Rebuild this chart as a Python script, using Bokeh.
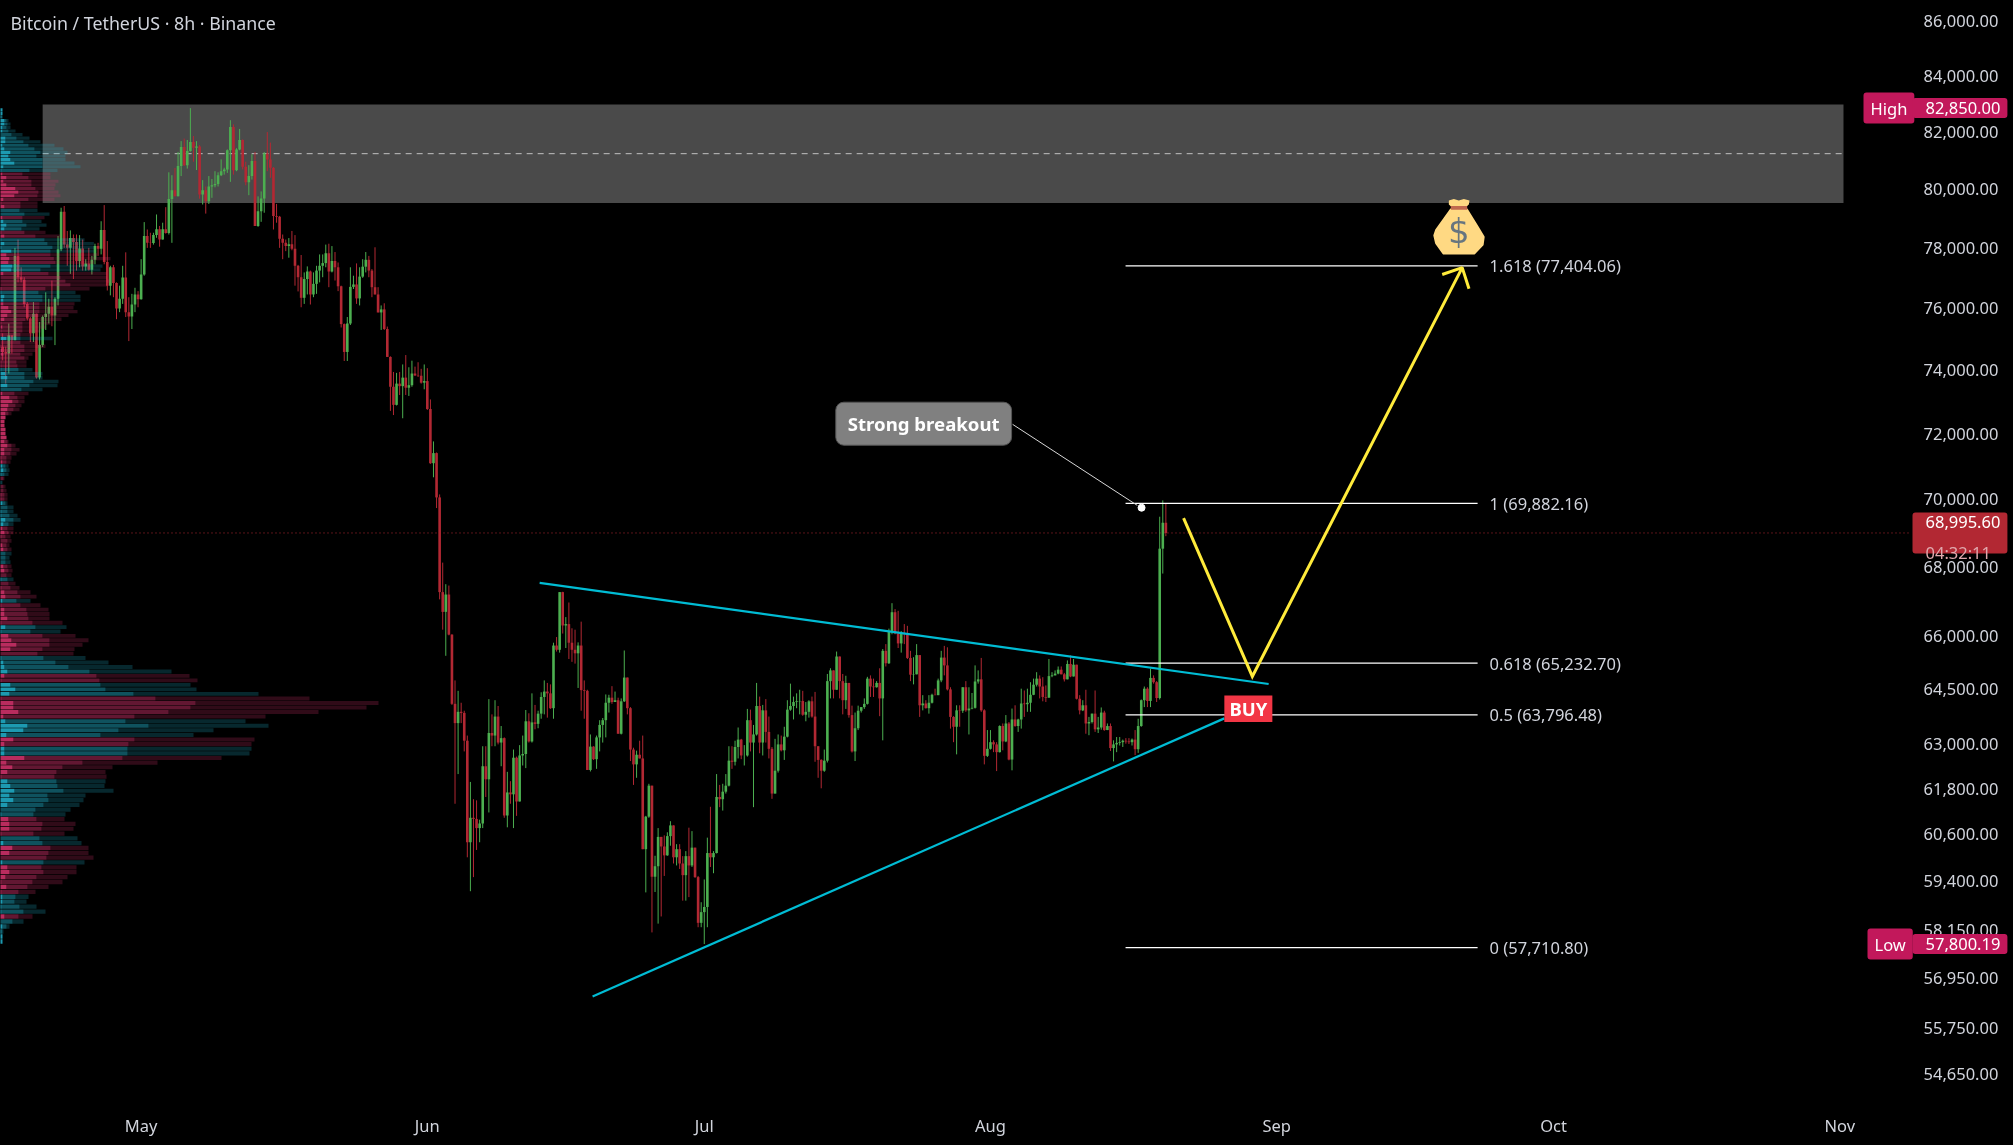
from bokeh.plotting import figure
from bokeh.models import ColumnDataSource, Range1d, FixedTicker, NumeralTickFormatter, Label
from bokeh.core.properties import value
from bokeh.embed import file_html
from bokeh.resources import INLINE
import math

FIRST_OPEN = 74760
CLOSES = [
74590,74540,75130,74970,77740,77030,76950,76150,75670,75190,
75830,73770,74810,75720,75830,76060,75770,76320,77960,79230,
78120,78010,78340,78210,77570,77990,77390,77490,77280,77610,
78070,77980,78610,77540,76750,77360,76840,76000,76320,77020,
75880,75740,76130,76460,76300,77120,78410,78180,78170,78440,
78640,78290,78640,78510,79670,79970,79760,80810,81470,80840,
81330,81650,81450,81490,79820,79970,79590,80100,80140,80190,
80490,80630,80690,81360,82180,80660,81390,81720,80780,80250,
80460,80980,78750,79250,79690,81250,81040,80750,79090,79060,
78320,78180,78070,78130,77980,77410,77030,76350,76970,77220,
76460,76810,77250,77410,77500,77830,77220,77570,77360,76730,
75490,74590,75510,76710,76790,76330,77050,77380,77610,77250,
76700,76460,75870,75970,75330,74430,73480,72910,73580,73500,
73770,73450,73530,73900,73840,73830,73610,73660,72780,
71100,71410,70060,67260,66690,67190,66040,64100,63570,63880,
63850,63090,60390,61030,61000,60760,60880,62400,62050,63300,
63230,63750,63040,63160,61090,61700,61650,62630,61460,62690,
62730,63620,63070,63590,63550,63830,64290,64440,64390,63980,
65730,65610,67260,66300,66340,65810,65610,65510,65730,64480,
64460,62300,62930,62590,63180,63520,63650,64130,64270,64150,
64200,63280,64170,64830,63980,62850,62450,62710,62610,60210,
61060,61880,59500,59770,60530,60280,60050,60550,60830,60000,
60210,59840,59540,60030,59790,60250,59490,58330,58600,58730,
60110,60000,60110,61580,61520,61720,61880,62550,62520,62920,
63120,62690,62690,63650,63040,63260,64040,63040,63920,63330,
62870,61670,62280,62990,62830,63200,63940,64040,64150,64170,
64180,63800,63880,64170,63750,62940,62570,62280,62550,64730,
65030,64490,65420,64730,64200,64680,63790,62800,63430,63910,
64010,64100,64800,64580,64560,64680,64250,65580,65230,66140,
66680,66070,65790,66070,66050,65380,64910,64920,65460,64060,
64110,63980,64130,64350,64340,64750,65390,65170,64500,63740,
63470,63920,63910,64560,63920,63970,63990,64720,64780,63920,
62680,62870,63050,62990,62780,63490,63070,63560,62580,63670,
63490,63670,64110,64090,64130,64350,64630,64800,64580,64290,
64270,64870,64890,64940,65050,64920,64780,65210,64860,65190,
64240,63920,64060,63560,63600,63830,63400,63450,63860,63380,
63490,62890,62990,63030,63050,63090,63070,63050,63120,62860,
63490,64200,64520,64180,64820,64700,64260,68530,69300,68995.6,
]
HIGHS = [
75190,74760,75510,75080,78010,78290,77360,77030,76210,75720,
76210,75830,75560,75770,76530,76320,76920,76370,78410,79370,
79430,78580,78600,78460,78460,78440,78290,77630,78010,77740,
78150,78180,78910,79460,78240,77410,77440,76860,76750,77410,
77860,76370,76480,76680,76570,77630,78880,78630,78520,78520,
79140,78750,78860,79390,80590,80490,80740,81300,81680,81770,
81720,82850,81860,81680,81540,80320,80100,80460,80360,80630,
80590,81040,80750,81390,82420,82270,81430,82110,81740,80960,
80840,81220,81300,79760,79930,81300,82000,81630,80770,79500,
79090,78460,78290,78340,78580,78440,77440,77770,77190,77390,
77250,77190,77410,77790,77790,78120,78150,78070,77870,77520,
76750,75510,75720,77360,77080,77490,77360,77630,77870,77740,
77300,78030,76700,76100,76170,75410,74450,73950,73920,73950,
74190,74490,74100,74310,74120,74260,74050,74190,74070,
73080,71770,71430,70150,68120,67490,67450,66050,64750,64460,
64130,63910,63230,61980,61520,61490,60980,62940,62940,64230,
63810,64200,64040,63490,63180,62250,62000,62850,62660,62970,
63230,63930,63840,64390,64070,63910,64420,64750,64680,64640,
65810,65970,67260,67270,66540,66960,66220,66180,65820,66410,
64750,64490,63260,62940,63230,63650,63710,64360,64350,64590,
64440,64270,64250,65590,64830,64010,62900,62820,63090,63230,
61080,61930,61880,60040,60760,60530,60570,60650,60940,60830,
60340,60340,60030,60160,60770,60680,60250,59520,58850,59430,
60510,61320,60160,62190,61900,61930,62190,62940,62940,63090,
63450,63140,62970,63960,63940,63520,64680,64300,64070,64230,
63750,62920,63140,63260,63230,63470,64200,64660,64300,64390,
64490,64460,64150,64200,64300,64430,62940,62590,62850,64930,
65090,65030,65560,65420,64930,64880,64680,64050,63860,64050,
64010,64250,64850,64890,64800,64730,65090,65630,65770,66210,
66940,66770,66720,66140,66340,66290,65580,65400,65770,65460,
64340,64200,64340,64380,64520,64800,65580,65720,65680,64560,
63760,64060,64060,64560,64730,64560,64400,65170,65030,65380,
63950,63380,63380,63100,63050,63510,63560,63790,63600,63970,
64060,63690,64520,64470,64520,64700,64800,64980,64890,64840,
64610,65350,64980,65030,65140,65140,64960,65310,65450,65350,
65190,64340,64200,64490,63740,63830,64470,63740,64000,63910,
63560,63560,63100,63190,63190,63120,63160,63160,63150,63380,
63690,64220,64580,64560,65080,64890,64730,69480,69970,69880,
]
LOWS = [
74320,73580,73900,74540,74970,76860,76860,76040,75610,74910,
74910,73740,73710,74750,75300,75510,75420,74810,76100,77900,
78010,77410,77140,76970,77250,77360,77250,77250,77250,77120,
77460,77740,77790,77460,76590,76430,76370,75650,75880,76150,
75720,74940,75330,75880,76040,76290,77080,78010,78010,78120,
78350,78050,78290,78490,78460,78180,79760,79760,80460,80810,
80720,81310,80960,80670,79680,79480,79170,79500,79710,80070,
80100,80460,80510,80570,80260,80510,80630,81360,80690,80140,
79800,80340,78750,78720,78890,79200,80630,80400,78630,78860,
78010,77630,77900,77680,77930,76750,76560,76040,76150,76460,
76130,76370,76480,76860,77030,77360,76700,77190,76920,76570,
75380,74300,74300,75460,76640,76150,76100,77010,77190,77030,
76370,76460,75870,75300,75300,74430,72720,72590,72890,73220,
72490,73220,73190,73480,73820,73790,73580,73400,72750,
71080,70670,69740,67050,66180,65440,66020,64070,61400,62190,
63570,62800,60000,59130,59490,60190,60390,60760,61580,61170,
62940,62940,62990,62400,61030,60780,61400,60760,61080,61460,
62420,62350,63040,63040,63400,63430,63690,63810,63720,63960,
63690,65560,65530,66070,65660,65350,65270,65220,64540,63910,
63690,62300,62260,62570,62330,62800,63040,63180,63860,64100,
64150,63280,63260,64150,63810,62540,61900,62090,62610,60210,
59100,61030,58090,59110,58310,58490,59520,60040,60300,59840,
59790,59700,58890,58890,58980,59750,59470,58220,58220,57800,
58220,59750,59590,60100,61310,61220,61670,61860,62330,62420,
62610,62590,62420,62660,62800,61310,63230,62750,62690,63040,
62610,61530,61670,62230,62800,62570,63180,63910,63670,63980,
63810,63770,63620,63720,63720,62520,62090,61810,62250,62500,
64250,64250,64490,64250,63810,63960,63720,62770,62540,63380,
63860,63960,64080,64290,64290,64550,63760,63100,65140,65210,
66050,66050,65660,65530,65770,65350,64730,64640,64920,63740,
63920,63970,63830,64110,64340,64340,64700,64890,64470,63420,
63050,62720,63470,63850,63880,63260,63950,63970,64660,63880,
62450,62650,62850,62780,62270,62770,62830,63050,62560,62290,
63470,63330,63420,63740,63880,63880,64340,64580,64250,64170,
64150,64270,64840,64890,64920,64920,64720,64780,64840,64860,
64220,63810,63900,63280,63240,63560,63330,63300,63390,63360,
63380,62810,62530,62780,62960,62920,63010,63000,62960,62700,
62760,63470,64010,64010,64010,64660,64150,64220,67800,68900,
]

# Volume profile rows, top row first. T = teal row, P = pink row.
PROFILE_TOP_PRICE = 82787
PROFILE_STEP = 125.25
PROFILE_SIDE = list(
    "T"*18 + "P"*10 + "TT" + "P" + "TTT" + "PP" + "TTTT" + "PP"
    + "P" + "TT" + "PPPPP" + "TTT" + "P"*9 + "T" + "P"*7 + "T"*6 + "P"*9
    + "P"*9 + "TTT" + "P" + "T" + "PPPP" + "T"*6 + "P"*6 + "TTT" + "PPP" + "T" + "PPPP"
    + "T" + "P"*5 + "TT" + "P"*5 + "T"*4 + "PP" + "TTT" + "P"*5 + "T"*4 + "PP" + "TT"
    + "P"*5 + "T"*8 + "P"*4 + "TT" + "PPP" + "T" + "P"*6 + "T"*4 + "P" + "T"*5
)
PROFILE_A = [
6,6,3,12,12,6,6,0,15,15,6,12,30,24,30,42,9,3,6,18,9,18,45,54,42,9,3,12,0,0,6,9,18,12,3,12,3,12,3,33,18,27,
24,36,33,9,0,0,0,3,3,12,9,9,24,33,21,12,3,6,3,3,18,0,3,6,9,3,3,3,3,15,21,0,21,0,6,27,36,24,21,15,15,12,12,
15,15,18,12,21,12,12,3,6,6,9,3,0,0,0,0,3,3,6,0,3,3,15,9,6,12,3,0,6,9,0,0,0,9,12,0,3,0,3,12,15,
6,3,12,12,21,3,15,3,24,33,48,30,0,3,9,12,21,12,3,30,45,27,3,39,39,54,9,15,81,69,18,39,12,12,12,72,18,36,21,3,21,30,42,27,39,21,0,3,24,27,27,3,0,9,36,27,0,6,21,27,15,3,18,3,6,6,3,3,12,0,6,3,6,6,
]
PROFILE_B = [
6,6,6,18,21,18,24,33,48,69,84,102,120,108,126,126,126,87,66,84,93,93,105,114,111,84,60,60,57,72,66,66,78,63,72,105,132,141,156,150,150,160,
165,150,120,144,180,195,210,135,114,126,126,117,117,117,114,75,66,66,66,60,60,60,72,72,60,72,48,51,54,72,72,99,87,63,42,51,54,45,39,24,15,12,12,
15,15,18,21,33,33,30,18,18,15,18,12,9,3,9,9,12,12,15,21,21,27,39,24,21,24,15,21,18,21,15,15,15,21,24,18,21,24,30,51,60,
48,60,78,81,84,96,105,90,126,147,147,126,111,129,165,204,267,288,297,300,315,399,465,585,570,504,402,375,444,354,300,402,384,381,381,366,246,186,168,162,168,171,189,141,144,129,105,99,108,126,123,99,117,126,150,144,138,129,123,129,108,96,81,54,45,42,57,69,54,36,18,6,6,6,
]
PROFILE_C = [
6,6,6,24,30,30,45,66,87,120,162,189,201,195,195,222,240,171,150,150,174,165,162,174,180,162,111,111,111,147,132,123,138,117,135,180,252,280,282,280,290,330,
280,306,300,320,320,330,320,267,225,240,240,222,219,231,204,183,150,135,120,100,156,110,135,105,96,84,78,78,96,126,126,174,171,126,84,72,72,63,57,33,15,12,12,
15,15,18,24,45,57,48,33,30,24,27,24,12,6,15,18,21,21,21,39,39,51,60,39,39,39,30,33,27,33,33,27,30,33,36,33,39,45,57,90,108,
90,120,144,147,147,186,198,180,225,264,246,222,219,255,324,396,513,567,591,570,588,774,927,1134,1098,954,795,735,804,639,579,762,753,753,747,663,471,336,315,318,315,312,339,255,249,237,210,195,192,225,219,192,231,243,264,264,279,252,228,228,201,186,144,105,84,78,108,135,96,69,27,9,6,6,
]

PRICE_TICKS = [86000,84000,82000,80000,78000,76000,74000,72000,70000,68000,66000,64500,63000,61800,60600,59400,58150,56950,55750,54650]
MONTH_TICKS = {45:"May",138:"Jun",228:"Jul",321:"Aug",414:"Sep",504:"Oct",597:"Nov"}
FIB_LEVELS = [77404.06,69882.16,65232.70,63796.48,57710.80]
FIB_LABELS = ["1.618 (77,404.06)","1 (69,882.16)","0.618 (65,232.70)","0.5 (63,796.48)","0 (57,710.80)"]
LAST_PRICE = 68995.60
TREND_UP_X, TREND_UP_Y = [174.5,411.4],[67530,64650]
TREND_LOW_X, TREND_LOW_Y = [191.7,397],[56510,63700]
YELLOW_X, YELLOW_Y = [383.75,406.1,474.3],[69440,64860,77350]
ARROW_X, ARROW_Y = [467.8,474.3,476.5],[77120,77350,76650]

GREEN, RED = "#4caf50", "#b22833"
FONT = "Noto Sans"
TEXT = "#d1d4dc"

N = len(CLOSES)
opens = [FIRST_OPEN] + CLOSES[:-1]
xs = list(range(N))
colors = [GREEN if c >= o else RED for o, c in zip(opens, CLOSES)]

X0, X1 = -1.025, 653.77
Y_TOP, Y_BOT = 86818, 52973
p = figure(width=2015, height=1147,
           x_range=Range1d(X0, X1), y_range=Range1d(Y_BOT, Y_TOP), y_axis_type="log",
           y_axis_location="right", output_backend="svg", toolbar_location=None,
           background_fill_color="#000000", border_fill_color="#000000",
           min_border_left=0, min_border_top=0, min_border_right=0, min_border_bottom=0)
p.styles = {"position": "fixed", "left": "-1px", "top": "-1px"}
p.outline_line_color = None
p.grid.visible = False
p.extra_x_ranges = {"vol": Range1d(-3, 6042)}

yax = p.yaxis[0]
yax.fixed_location = 621.6
yax.ticker = FixedTicker(ticks=PRICE_TICKS)
yax.formatter = NumeralTickFormatter(format="0,0.00")
yax.axis_line_color = None
yax.major_tick_line_color = None
yax.minor_tick_line_color = None
yax.major_label_standoff = 2
yax.major_label_text_color = TEXT
yax.major_label_text_font = FONT
yax.major_label_text_font_size = "16.5px"

xax = p.xaxis[0]
xax.fixed_location = 53920
xax.ticker = FixedTicker(ticks=list(MONTH_TICKS))
xax.major_label_overrides = MONTH_TICKS
xax.axis_line_color = None
xax.major_tick_line_color = None
xax.minor_tick_line_color = None
xax.major_label_standoff = 3
xax.major_label_text_color = TEXT
xax.major_label_text_font = FONT
xax.major_label_text_font_size = "16.5px"

# grey supply zone
p.quad(left=[13.0], right=[598.2], bottom=[79530], top=[82980], fill_color="#808080", fill_alpha=0.58, line_color=None)
p.segment([13.0], [81240], [598.2], [81240], line_color="#c0c0c0", line_width=1, line_dash="6 5")

# last price line
p.segment([X0], [LAST_PRICE], [619.6], [LAST_PRICE], line_color=RED, line_width=1, line_dash="1 3")

# candles
src = ColumnDataSource(dict(x=xs, o=opens, c=CLOSES, h=HIGHS, l=LOWS, color=colors))
p.segment("x", "h", "x", "l", source=src, line_color="color", line_width=1)
p.vbar("x", 0.85, "o", "c", source=src, fill_color="color", line_color=None)

# volume profile
rows = len(PROFILE_A)
centers = [PROFILE_TOP_PRICE - PROFILE_STEP * i for i in range(rows)]
base = ["#22b5d0" if s == "T" else "#d9346e" for s in PROFILE_SIDE]
psrc = ColumnDataSource(dict(
    b=[c - 55 for c in centers], t=[c + 55 for c in centers], zero=[0] * rows,
    a=PROFILE_A, m=PROFILE_B, d=PROFILE_C, color=base))
p.quad(left="zero", right="a", bottom="b", top="t", source=psrc, x_range_name="vol",
       fill_color="color", fill_alpha=0.85, line_color=None)
p.quad(left="a", right="m", bottom="b", top="t", source=psrc, x_range_name="vol",
       fill_color="color", fill_alpha=0.45, line_color=None)
p.quad(left="m", right="d", bottom="b", top="t", source=psrc, x_range_name="vol",
       fill_color="color", fill_alpha=0.22, line_color=None)

# fib levels
fsrc = ColumnDataSource(dict(x0=[364.9] * 5, x1=[479.3] * 5, tx=[483.2] * 5, y=FIB_LEVELS, label=FIB_LABELS))
p.segment("x0", "y", "x1", "y", source=fsrc, line_color="#ffffff", line_width=1.2)
p.text("tx", "y", text="label", source=fsrc, text_color=TEXT, text_font=value(FONT), text_font_size="16.5px",
       text_baseline="middle", text_align="left")

# trend lines
p.line(TREND_UP_X, TREND_UP_Y, line_color="#00bcd4", line_width=2.2)
p.line(TREND_LOW_X, TREND_LOW_Y, line_color="#00bcd4", line_width=2.2)

# projected path
p.line(YELLOW_X, YELLOW_Y, line_color="#ffeb3b", line_width=3, line_join="miter")
p.line(ARROW_X, ARROW_Y, line_color="#ffeb3b", line_width=3)

# BUY tag
p.quad(left=[397], right=[412.6], bottom=[63600], top=[64330], fill_color="#f23645", line_color=None)
p.text([404.8], [63960], text=["BUY"], text_color="#ffffff", text_font=value(FONT), text_font_style="bold",
       text_font_size="18.5px", text_align="center", text_baseline="middle")

# callout
p.line([328.2, 368.7], [72300, 69820], line_color="#d8d8d8", line_width=1)
p.scatter([370.1], [69750], size=7, color="#ffffff")
p.add_layout(Label(x=299.3, y=72320, text="Strong breakout", text_color="#ffffff", text_font=FONT,
                   text_font_style="bold", text_font_size="18.6px", text_align="center", text_baseline="middle",
                   background_fill_color="#808080", border_line_color="#555555", border_radius=8,
                   padding=(12, 12, 9, 9)))

# money bag icon (drawn: no emoji font is installed)
def ix(px):
    return -0.7 + px * 0.32496
def py(px):
    return 86000 * math.exp(-(px - 21) / 2322)
def zx(z):
    return ix(1100 + z / 3)
def zy(z):
    return py(180 + z / 3)
KNOT = [(1045,60),(1060,56),(1075,60),(1090,56),(1107,60),(1105,72),(1100,77),(1050,77),(1045,72)]
BAG = [(1052,88),(1098,88),(1130,140),(1148,170),(1145,192),(1120,218),(1030,218),(1008,187),(1003,165),(1008,150)]
BAND = [(1050,77),(1100,77),(1100,88),(1052,88)]
p.patch([zx(a) for a, b in KNOT], [zy(b) for a, b in KNOT], fill_color="#ffd983", line_color=None)
p.patch([zx(a) for a, b in BAG], [zy(b) for a, b in BAG], fill_color="#ffd983", line_color="#ffd983", line_width=3, line_join="round")
p.patch([zx(a) for a, b in BAND], [zy(b) for a, b in BAND], fill_color="#c1694f", line_color=None)
p.text([zx(1075)], [zy(152)], text=["$"], text_color="#67757f", text_font=value("DejaVu Sans"), text_font_size="34px",
       text_align="center", text_baseline="middle")

# title
p.add_layout(Label(x=11, y=85960, x_units="screen", text="Bitcoin / TetherUS · 8h · Binance", text_color=TEXT,
                   text_font=FONT, text_font_size="17.8px", text_baseline="middle"))

# price tags
TAG = "#c2185b"
def tag(x, y, txt, color, pad):
    p.add_layout(Label(x=x + 1, y=y, x_units="screen", text=txt, text_color="#ffffff", text_font=FONT,
                       text_font_size="16.5px", text_baseline="middle", background_fill_color=color,
                       border_radius=3, padding=pad))
tag(1863, 82850, "High", TAG, (7, 7, 4, 4))
tag(1912, 82850, "82,850.00", TAG, (13, 7, 4, 4))
tag(1867, 57800.19, "Low", TAG, (7, 7, 4, 4))
tag(1912, 57800.19, "57,800.19", TAG, (13, 7, 4, 4))
tag(1912, 68995.60, "68,995.60", RED, (13, 7, 4, 25))
p.add_layout(Label(x=1926, y=68420, x_units="screen", text="04:32:11", text_color="#e0a8ad", text_font=FONT,
                   text_font_size="16.5px", text_baseline="middle"))

open("out.html", "w").write(file_html(p, INLINE))
